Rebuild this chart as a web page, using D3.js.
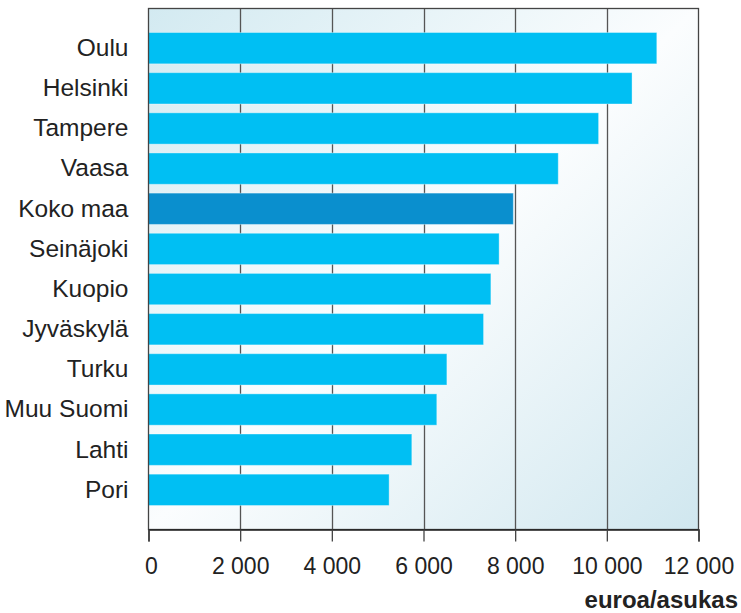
<!DOCTYPE html>
<html><head><meta charset="utf-8">
<script src="https://cdn.jsdelivr.net/npm/d3@7"></script>
<style>body{margin:0;background:#fff}svg{display:block}</style>
</head><body>
<script>
const categories = ["Oulu","Helsinki","Tampere","Vaasa","Koko maa","Seinäjoki","Kuopio","Jyväskylä","Turku","Muu Suomi","Lahti","Pori"];
const values = [11090,10550,9820,8940,7960,7650,7470,7310,6510,6290,5745,5250];
const highlight = ["Koko maa"];
const tickValues = [0,2000,4000,6000,8000,10000,12000];
const axisTitle = "euroa/asukas";

const W = 741, H = 613;
const L = 148.5, R = 698.5, T = 8.5, B = 529.5;
const FONT = "'Liberation Sans', Arial, sans-serif";
const svg = d3.select("body").append("svg").attr("width", W).attr("height", H);
const defs = svg.append("defs");
const g = defs.append("linearGradient").attr("id","bg").attr("x1","0").attr("y1","0").attr("x2","1").attr("y2","1");
g.append("stop").attr("offset","0%").attr("stop-color","#d3eaf1");
g.append("stop").attr("offset","50%").attr("stop-color","#fbfdfe");
g.append("stop").attr("offset","100%").attr("stop-color","#d0e7ef");

const x = d3.scaleLinear().domain([0,12000]).range([L,R]);
const y = d3.scaleBand().domain(categories).range([T+20, B-20]).paddingInner(0.22).paddingOuter(0.1);

svg.append("rect").attr("x",L).attr("y",T).attr("width",R-L).attr("height",B-T).attr("fill","url(#bg)");

// gridlines
svg.append("g").selectAll("line").data(tickValues.slice(1,-1)).join("line")
  .attr("x1",d=>Math.round(x(d))+0.5).attr("x2",d=>Math.round(x(d))+0.5)
  .attr("y1",T).attr("y2",B).attr("stroke","#555").attr("stroke-width",1.3);

// bars
svg.append("g").selectAll("rect").data(categories).join("rect")
  .attr("x",x(0)).attr("y",d=>y(d))
  .attr("width",(d,i)=>x(values[i])-x(0)).attr("height",y.bandwidth())
  .attr("fill",d=>highlight.includes(d)?"#0a8fce":"#00bff3")
  .attr("stroke","#ffffff").attr("stroke-opacity",0.35).attr("stroke-width",1);

// border
svg.append("rect").attr("x",L).attr("y",T).attr("width",R-L).attr("height",B-T)
  .attr("fill","none").attr("stroke","#444").attr("stroke-width",1.3);

// x axis
const xAxis = d3.axisBottom(x).tickValues(tickValues).tickSize(12).tickPadding(16)
  .tickFormat(d=>d3.format(",")(d).replace(/,/g," "));
const ax = svg.append("g").attr("transform",`translate(0,${B})`).call(xAxis);
ax.attr("font-size",null).attr("font-family",null);
ax.select(".domain").attr("stroke","#222").attr("stroke-width",1.5);
ax.selectAll(".tick line").attr("stroke","#444").attr("stroke-width",1.3);
ax.selectAll(".tick text").style("font-family",FONT).style("font-size","23px").attr("fill","#222");
ax.selectAll(".tick").filter(d=>d===0).select("text").attr("dx",2.5);

// y labels
const yAxis = d3.axisLeft(y).tickSize(0).tickPadding(20);
const ay = svg.append("g").attr("transform",`translate(${L},0)`).call(yAxis);
ay.attr("font-size",null).attr("font-family",null);
ay.select(".domain").remove();
ay.selectAll(".tick text").style("font-family",FONT).style("font-size","24.5px").attr("fill","#222");

svg.append("text").attr("x",738).attr("y",608).attr("text-anchor","end")
  .style("font-family",FONT).style("font-weight","bold").style("font-size","24px").attr("fill","#222")
  .text(axisTitle);
</script>
</body></html>
